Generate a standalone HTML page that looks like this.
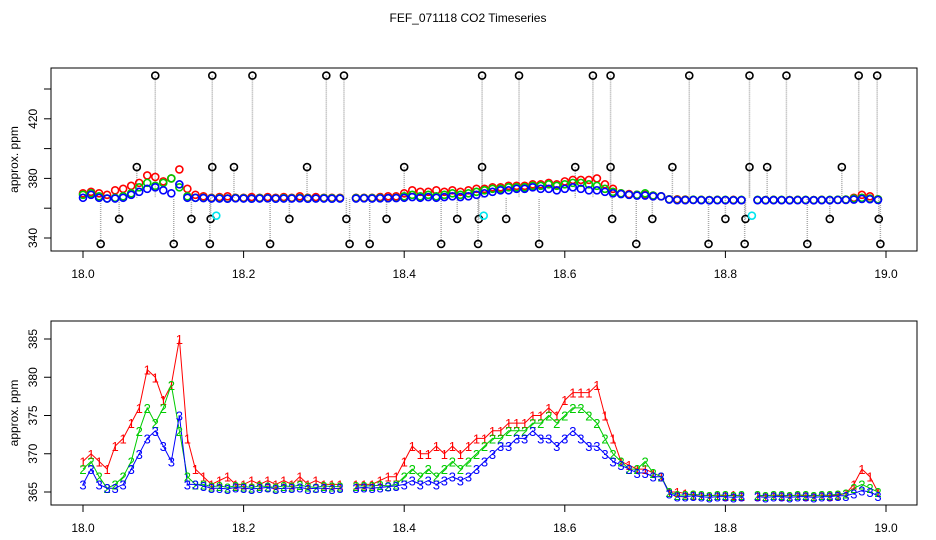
<!DOCTYPE html>
<html><head><meta charset="utf-8"><style>
body{margin:0;background:#fff;}
svg{display:block;font-family:"Liberation Sans",sans-serif;}
</style></head><body>
<svg id="chart" width="936" height="540" viewBox="0 0 936 540" xmlns="http://www.w3.org/2000/svg">
<text x="468" y="22" text-anchor="middle" font-size="12">FEF_071118  CO2 Timeseries</text>
<g id="topPanel"></g>
<g id="botPanel"></g>
</svg>
<script>
const times = [];
for (let i = 0; i < 100; i++) times.push(18 + i * 0.01);
const series1 = [369,370,369,368,371,372,374,376,381,380,377,379,385,372,368,367,366,366.5,367,366,366,366.5,366,366.5,366,366.5,366,367,366,366.5,366,366,366,null,366,366,366,366.5,367,367,369,371,370,370,371,370,371,370,371,372,372,373,373,374,374,374,375,375,376,375,377,378,378,378,379,375,372,369,368.5,368,368,367.5,367,365,365,364.8,364.6,364.6,364.5,364.6,364.5,364.6,364.5,null,364.5,364.5,364.6,364.5,364.5,364.6,364.5,364.5,364.6,364.5,364.6,364.8,366,368,367,365];
const series2 = [368,369,367,365.5,366,367,369,373,376,374,376,379,373,367,366,366,365.7,365.8,365.6,365.8,365.7,365.6,365.8,365.7,365.6,365.8,365.7,365.9,365.7,365.6,365.8,365.7,365.7,null,365.8,365.8,365.8,365.9,365.8,366,367,368,367,368,367,368,369,368,369,370,371,372,372,373,373,373,374,374,375,374,375,376,376,375,374,372,370,369,368,368,369,367.5,367,365,364.6,364.6,364.7,364.6,364.5,364.6,364.6,364.5,364.6,null,364.6,364.5,364.6,364.6,364.5,364.6,364.6,364.5,364.6,364.6,364.7,364.8,365.5,366,365.5,365];
const series3 = [366,368,366,365.5,365.5,366,368,370,372,373,371,369,375,366,366,365.8,365.5,365.5,365.4,365.6,365.5,365.4,365.5,365.6,365.4,365.5,365.5,365.6,365.4,365.5,365.5,365.4,365.5,null,365.5,365.6,365.5,365.6,365.7,365.8,366,366.5,366,366.5,366,366.5,367,366.5,367,368,369,370,371,371,372,372,373,372,372,371,372,373,372,371,371,370,369,368.5,368,367.5,367.5,367,367,364.8,364.4,364.4,364.5,364.4,364.3,364.4,364.4,364.3,364.4,null,364.4,364.3,364.4,364.4,364.3,364.4,364.4,364.3,364.4,364.4,364.5,364.5,364.8,365.2,365,364.5];
const outlierTimes = [18.090,18.161,18.211,18.303,18.325,18.497,18.543,18.635,18.657,18.755,18.830,18.876,18.966,18.989,
 18.067,18.161,18.188,18.279,18.400,18.497,18.613,18.657,18.734,18.830,18.852,18.945,
 18.045,18.135,18.159,18.257,18.328,18.378,18.466,18.493,18.527,18.659,18.709,18.800,18.825,18.930,18.991,
 18.022,18.113,18.158,18.233,18.332,18.357,18.446,18.492,18.568,18.689,18.779,18.824,18.902,18.993];
const outlierValues = [449,449,449,449,449,449,449,449,449,449,449,449,449,449,
 387.6,387.6,387.6,387.6,387.6,387.6,387.6,387.6,387.6,387.6,387.6,387.6,
 352.8,352.8,352.8,352.8,352.8,352.8,352.8,352.8,352.8,352.8,352.8,352.8,352.8,352.8,352.8,
 336,336,336,336,336,336,336,336,336,336,336,336,336,336];
const cyanTimes = [18.166,18.499,18.833];
const cyanValues = [355,355,355];
const xTicks = [18.0,18.2,18.4,18.6,18.8,19.0];
const xTickLabels = ["18.0","18.2","18.4","18.6","18.8","19.0"];
const topYTicks = [340,360,380,400,420,440];
const topYLabels = ["340","","380","","420",""];
const botYTicks = [365,370,375,380,385];
const botYLabels = ["365","370","375","380","385"];
const topOffset = 1;

const NS = "http://www.w3.org/2000/svg";
function mk(tag, attrs, parent){const e=document.createElementNS(NS,tag);for(const k in attrs)e.setAttribute(k,attrs[k]);parent.appendChild(e);return e;}
const xs = t => 83 + (t - 18) * 803;
const yTop = v => 238 - (v - 340) * 1.49;
const yBot = v => 492 - (v - 365) * 7.65;

function frame(g, y0, y1, yf, ticks, labels, name){
  const r = mk('rect',{x:51,y:y0,width:866,height:y1-y0,fill:'none',stroke:'#000','stroke-width':1},g);
  
  
  xTicks.forEach((t,i)=>{
    const l=mk('line',{x1:xs(t),x2:xs(t),y1:y1,y2:y1+7,stroke:'#000'},g);
    
    
    const tx=mk('text',{x:xs(t),y:y1+27,'text-anchor':'middle','font-size':12},g);
    tx.textContent=xTickLabels[i];
    
    
  });
  ticks.forEach((v,i)=>{
    const y=yf(v);
    const l=mk('line',{x1:44,x2:51,y1:y,y2:y,stroke:'#000'},g);
    
    
    if(labels[i]){
      const tx=mk('text',{x:0,y:0,'text-anchor':'middle','font-size':12,transform:`translate(37,${y}) rotate(-90)`},g);
      tx.textContent=labels[i];
      
      
    }
  });
  const yt=mk('text',{x:0,y:0,'text-anchor':'middle','font-size':12,transform:`translate(18,${(y0+y1)/2}) rotate(-90)`},g);
  yt.textContent='approx. ppm';
  
  
}

const topG = document.getElementById('topPanel');
const botG = document.getElementById('botPanel');
frame(topG, 68, 251, yTop, topYTicks, topYLabels, 'top');
frame(botG, 321, 505, yBot, botYTicks, botYLabels, 'bottom');

outlierTimes.forEach((t,i)=>{
  const x=xs(t);
  const l=mk('line',{x1:x,x2:x,y1:yTop(outlierValues[i]),y2:yTop(367),stroke:'#aaa','stroke-dasharray':'1,1','stroke-width':1.5},topG);
  
  
});
const colors=['#ff0000','#00cc00','#0000ff'];
const allSeries=[series1,series2,series3];
allSeries.forEach((s,si)=>{
  s.forEach((v,i)=>{
    if(v===null) return;
    const c=mk('circle',{cx:xs(times[i]),cy:yTop(v+topOffset),r:3.5,fill:'none',stroke:colors[si],'stroke-width':1.6},topG);
    
    
  });
});
outlierTimes.forEach((t,i)=>{
  const c=mk('circle',{cx:xs(t),cy:yTop(outlierValues[i]),r:3.5,fill:'none',stroke:'#000','stroke-width':1.6},topG);
  
  
});
cyanTimes.forEach((t,i)=>{
  const c=mk('circle',{cx:xs(t),cy:yTop(cyanValues[i]),r:3.5,fill:'none',stroke:'#00e5ee','stroke-width':1.6},topG);
  
  
});

allSeries.forEach((s,si)=>{
  let d='';let pen=false;
  s.forEach((v,i)=>{
    if(v===null){pen=false;return;}
    d+=(pen?'L':'M')+xs(times[i]).toFixed(1)+','+yBot(v).toFixed(1);pen=true;
  });
  const p=mk('path',{d:d,fill:'none',stroke:colors[si],'stroke-width':1},botG);
  
  
});
allSeries.forEach((s,si)=>{
  s.forEach((v,i)=>{
    if(v===null) return;
    const tx=mk('text',{x:xs(times[i]),y:yBot(v)+5,'text-anchor':'middle','font-size':13,fill:colors[si]},botG);
    tx.textContent=String(si+1);
    
    
  });
});
</script>
</body></html>
